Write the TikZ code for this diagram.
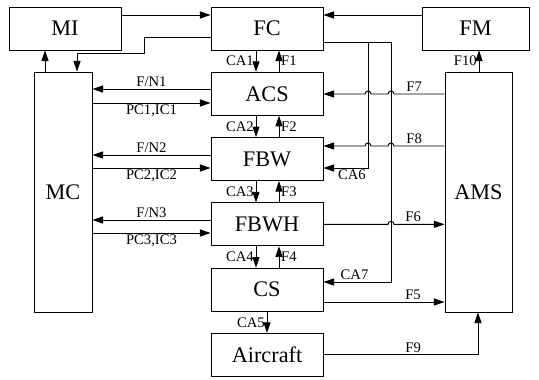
\documentclass[tikz,border=0pt]{standalone}
\usepackage{fontspec}
\setmainfont{Liberation Serif}
\usetikzlibrary{arrows.meta,positioning}

\tikzset{
  blk/.style={draw,minimum width=3.36cm,minimum height=1.29cm,inner sep=0pt,
    font=\fontsize{19}{21}\selectfont},
  lbl/.style={font=\fontsize{12.5}{14}\selectfont,inner sep=1.5pt},
}

\begin{document}
\begin{tikzpicture}[>={Triangle[length=9pt,width=6pt]},x=0.03cm,y=0.03cm,line width=0.8pt]
  \useasboundingbox (0,0) rectangle (539,379);

  % Blocks
  \node[blk] (FC) at (267,350.5) {FC};
  \node[blk] (MI) at (65,350.5) {MI};
  \node[blk,minimum width=3.21cm] (FM) at (475.5,350.5) {FM};
  \node[blk,below=0.64cm of FC] (ACS) {ACS};
  \node[blk,below=0.64cm of ACS] (FBW) {FBW};
  \node[blk,below=0.64cm of FBW] (FBWH) {FBWH};
  \node[blk,below=0.64cm of FBWH] (CS) {CS};
  \node[blk,below=0.64cm of CS] (Aircraft) {Aircraft};
  \node[blk,minimum width=1.74cm,minimum height=7.2cm] (MC) at (63,187) {MC};
  \node[blk,minimum width=2.01cm,minimum height=7.2cm] (AMS) at (478.5,187) {AMS};

  % Top row
  \draw[->] (MI.east |- 0,364) -- (FC.west |- 0,364);
  \draw[->] (FM.west |- 0,364) -- (FC.east |- 0,364);
  \draw[->] (FC.west |- 0,342) -| (144,326) -| (MC.north -| 77,0);
  \draw[->] (MC.north -| 45,0) -- (MI.south -| 45,0);
  \draw[->] (AMS.north -| 479,0) -- (FM.south -| 479,0) node[midway,left,lbl] {F10};

  % Commands down, feedback up
  \foreach \a/\b/\i in {FC/ACS/1, ACS/FBW/2, FBW/FBWH/3, FBWH/CS/4} {
    \draw[->] (\a.south -| 256,0) -- (\b.north -| 256,0) node[midway,left,lbl] {CA\i};
    \draw[->] (\b.north -| 279,0) -- (\a.south -| 279,0) node[midway,right,lbl] {F\i};
  }
  \draw[->] (CS.south) -- (Aircraft.north) node[midway,left,lbl] {CA5};

  % Links with MC
  \foreach \b/\i/\yt/\yb in {ACS/1/290/276, FBW/2/224/211, FBWH/3/159/146} {
    \draw[->] (\b.west |- 0,\yt) -- (MC.east |- 0,\yt) node[midway,above,lbl] {F/N\i};
    \draw[->] (MC.east |- 0,\yb) -- (\b.west |- 0,\yb) node[midway,below,lbl] {PC\i,IC\i};
  }

  % FC to FBW and CS
  \draw (FC.east |- 0,337) -- (391,337);
  \draw[->] (368,337) |- (FBW.east |- 0,211) node[pos=0.68,below,lbl] {CA6};
  \draw[->] (391,337) |- (CS.east |- 0,97) node[pos=0.77,above,lbl] {CA7};

  % AMS links
  \draw[->] (AMS.west |- 0,285) -- node[pos=0.6,above,lbl] {F7} (394,285)
    arc[start angle=0,end angle=180,radius=0.09cm] -- (371,285)
    arc[start angle=0,end angle=180,radius=0.09cm] -- (ACS.east |- 0,285);
  \draw[->] (AMS.west |- 0,233) -- node[pos=0.6,above,lbl] {F8} (394,233)
    arc[start angle=0,end angle=180,radius=0.09cm] -- (371,233)
    arc[start angle=0,end angle=180,radius=0.09cm] -- (FBW.east |- 0,233);
  \draw[->] (FBWH.east) -- (388,0 |- FBWH.east)
    arc[start angle=180,end angle=0,radius=0.09cm]
    -- node[pos=0.38,above,lbl] {F6} (AMS.west |- FBWH.east);
  \draw[->] (CS.east |- 0,77) -- (AMS.west |- 0,77) node[pos=0.74,above,lbl] {F5};
  \draw[->] (Aircraft.east) -| (AMS.south -| 478,0) node[pos=0.29,above,lbl] {F9};
\end{tikzpicture}
\end{document}
